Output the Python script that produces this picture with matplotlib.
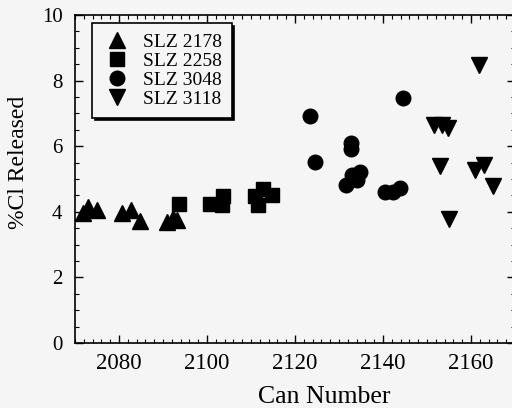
import numpy as np
import matplotlib
matplotlib.use("Agg")
import matplotlib.pyplot as plt
from matplotlib.ticker import MultipleLocator

plt.rcParams['font.family'] = ['Liberation Serif', 'DejaVu Serif']

# SLZ 2178 (up triangles)
tri_x = [2071.9, 2073.0, 2075.0, 2080.6, 2082.7, 2084.8, 2090.8, 2092.3, 2093.1]
tri_y = [3.95, 4.14, 4.05, 3.95, 4.05, 3.73, 3.70, 3.80, 3.75]

# SLZ 2258 (squares)
sq_x = [2093.7, 2100.7, 2103.5, 2103.7, 2110.9, 2112.8, 2114.7, 2111.7]
sq_y = [4.24, 4.24, 4.21, 4.48, 4.48, 4.69, 4.51, 4.21]

# SLZ 3048 (circles)
circ_x = [2123.4, 2124.5, 2132.7, 2132.7, 2131.7, 2132.9, 2134.0, 2134.8,
          2140.5, 2142.3, 2143.9, 2144.6]
circ_y = [6.92, 5.53, 6.09, 5.91, 4.82, 5.12, 4.97, 5.22,
          4.61, 4.61, 4.72, 7.46]

# SLZ 3118 (down triangles)
dtri_x = [2161.8, 2151.6, 2153.3, 2154.8, 2153.0, 2160.9, 2163.0, 2165.1, 2155.0]
dtri_y = [8.48, 6.65, 6.65, 6.55, 5.40, 5.27, 5.43, 4.79, 3.77]

labels = ["SLZ 2178", "SLZ 2258", "SLZ 3048", "SLZ 3118"]

bg = '#f5f5f5'
fig = plt.figure(figsize=(5.12, 4.08), dpi=100, facecolor=bg)
ax = fig.add_axes([75/512, 65/408, 440/512, 328/408], facecolor=bg)

ax.plot(tri_x, tri_y, '^', color='k', ms=11, ls='none', label=labels[0])
ax.plot(sq_x, sq_y, 's', color='k', ms=10, ls='none', label=labels[1])
ax.plot(circ_x, circ_y, 'o', color='k', ms=10.5, ls='none', label=labels[2])
ax.plot(dtri_x, dtri_y, 'v', color='k', ms=11, ls='none', label=labels[3])

ax.set_xlim(2070, 2170)
ax.set_ylim(0, 10)
ax.xaxis.set_major_locator(MultipleLocator(20))
ax.xaxis.set_minor_locator(MultipleLocator(2))
ax.yaxis.set_major_locator(MultipleLocator(2))
ax.yaxis.set_minor_locator(MultipleLocator(0.5))
ax.tick_params(which='both', direction='in', top=True, right=True)
ax.tick_params(which='major', length=6, width=1)
ax.tick_params(which='minor', length=3, width=0.8)
ax.tick_params(axis='y', pad=9, labelsize=15)
ax.tick_params(axis='x', pad=7, labelsize=16.5)
for s in ax.spines.values():
    s.set_linewidth(1.2)

ax.set_xlabel("Can Number", fontsize=18.5)
ax.set_ylabel("%Cl Released", fontsize=17)
ax.xaxis.set_label_coords(0.566, -0.13)
ax.yaxis.set_label_coords(-0.105, 0.55)

leg = ax.legend(loc='upper left', bbox_to_anchor=(0.039, 0.976), borderaxespad=0,
                fontsize=14, frameon=True, fancybox=False, handletextpad=0.52,
                labelspacing=0.07, borderpad=0.52, handlelength=1.55,
                shadow={'color': 'k', 'alpha': 1, 'ox': 2, 'oy': -2})
leg.get_frame().set_edgecolor('k')
leg.get_frame().set_linewidth(1.2)
leg.get_frame().set_facecolor(bg)
leg.get_frame().set_alpha(1)

fig.savefig("out.png", dpi=100, facecolor=bg)
